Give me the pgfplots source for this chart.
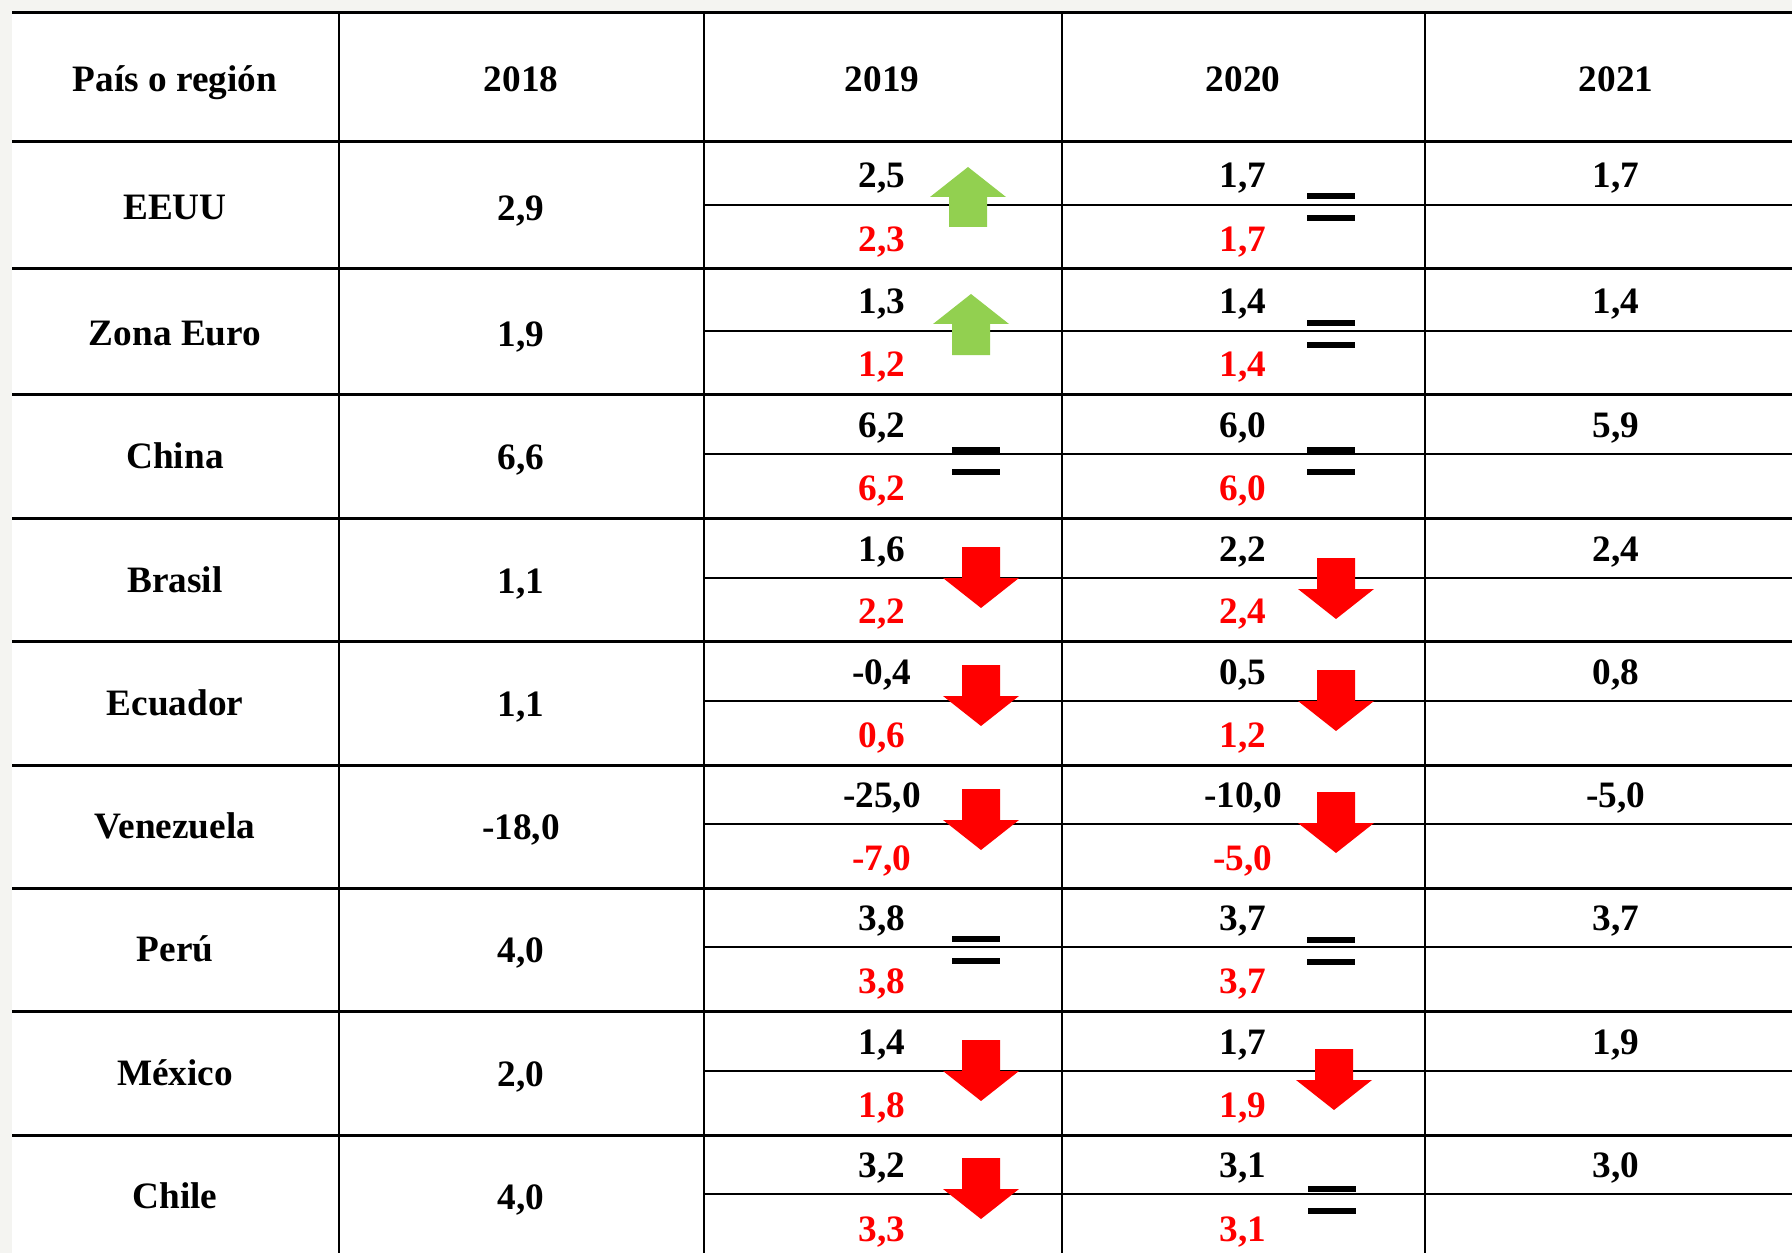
\documentclass[border=0pt]{standalone}
\usepackage{pgfplots}
\pgfplotsset{compat=1.18}
\usepackage{fontspec}
\setmainfont{Liberation Serif}

\definecolor{subegreen}{HTML}{92D050}
\definecolor{bajared}{HTML}{FF0000}
\definecolor{fondo}{HTML}{F4F4F1}

\tikzset{celda/.style={font=\fontsize{10.6}{12}\selectfont\bfseries, anchor=base, inner sep=0pt}}

% fila: {linea media}{borde inferior}{pais}{2018}{2019 arriba}{2019 abajo}{2020 arriba}{2020 abajo}{2021}
\newcommand{\fila}[9]{%
  \node[celda, yshift=-1.4mm] at (axis cs:175,#1) {#3};
  \node[celda, yshift=-1.55mm] at (axis cs:521,#1) {#4};
  \node[celda, yshift=1.7mm] at (axis cs:882,#1) {#5};
  \node[celda, yshift=1.8mm, text=bajared] at (axis cs:882,#2) {#6};
  \node[celda, yshift=1.7mm] at (axis cs:1243,#1) {#7};
  \node[celda, yshift=1.8mm, text=bajared] at (axis cs:1243,#2) {#8};
  \node[celda, yshift=1.7mm] at (axis cs:1616,#1) {#9};
}

\begin{document}
\begin{tikzpicture}
\begin{axis}[
  width=179.2mm, height=125.3mm, scale only axis,
  xmin=0, xmax=1792, ymin=0, ymax=1253,
  y dir=reverse, hide axis, unbounded coords=jump,
]
% fondo
\addplot[fill=fondo, draw=none] coordinates {(0,0) (1792,0) (1792,1253) (0,1253)} -- cycle;
\addplot[fill=white, draw=none] coordinates {(12,13) (1792,13) (1792,1253) (12,1253)} -- cycle;

% lineas horizontales
\addplot[black, line width=0.3mm] coordinates {
  (12,13) (1792,13) (nan,nan)
  (12,142) (1792,142) (nan,nan)
  (12,269) (1792,269) (nan,nan)
  (12,394) (1792,394) (nan,nan)
  (12,518) (1792,518) (nan,nan)
  (12,641) (1792,641) (nan,nan)
  (12,765) (1792,765) (nan,nan)
  (12,888) (1792,888) (nan,nan)
  (12,1011) (1792,1011) (nan,nan)
  (12,1135) (1792,1135)
};
\addplot[black, line width=0.27mm] coordinates {
  (704,205) (1792,205) (nan,nan)
  (704,331) (1792,331) (nan,nan)
  (704,454) (1792,454) (nan,nan)
  (704,578) (1792,578) (nan,nan)
  (704,701) (1792,701) (nan,nan)
  (704,824) (1792,824) (nan,nan)
  (704,947) (1792,947) (nan,nan)
  (704,1071) (1792,1071) (nan,nan)
  (704,1194) (1792,1194)
};
% lineas verticales
\addplot[black, line width=0.2mm] coordinates {
  (339,13) (339,1253) (nan,nan)
  (704,13) (704,1253) (nan,nan)
  (1062,13) (1062,1253) (nan,nan)
  (1425,13) (1425,1253)
};

% encabezado
\node[celda] at (axis cs:175,92) {País o región};
\node[celda] at (axis cs:521,92) {2018};
\node[celda] at (axis cs:882,92) {2019};
\node[celda] at (axis cs:1243,92) {2020};
\node[celda] at (axis cs:1616,92) {2021};

\fila{205}{269}{EEUU}{2,9}{2,5}{2,3}{1,7}{1,7}{1,7}
\fila{331}{394}{Zona Euro}{1,9}{1,3}{1,2}{1,4}{1,4}{1,4}
\fila{454}{518}{China}{6,6}{6,2}{6,2}{6,0}{6,0}{5,9}
\fila{578}{641}{Brasil}{1,1}{1,6}{2,2}{2,2}{2,4}{2,4}
\fila{701}{765}{Ecuador}{1,1}{-0,4}{0,6}{0,5}{1,2}{0,8}
\fila{824}{888}{Venezuela}{-18,0}{-25,0}{-7,0}{-10,0}{-5,0}{-5,0}
\fila{947}{1011}{Perú}{4,0}{3,8}{3,8}{3,7}{3,7}{3,7}
\fila{1071}{1135}{México}{2,0}{1,4}{1,8}{1,7}{1,9}{1,9}
\fila{1194}{1259}{Chile}{4,0}{3,2}{3,3}{3,1}{3,1}{3,0}

% flechas verdes (sube)
\addplot[fill=subegreen, draw=none] coordinates {(968,167) (1006,197) (987,197) (987,227) (949,227) (949,197) (930,197)} -- cycle;
\addplot[fill=subegreen, draw=none] coordinates {(971,294) (1009,324) (990,324) (990,355) (952,355) (952,324) (933,324)} -- cycle;

% flechas rojas (baja)
\addplot[fill=bajared, draw=none] coordinates {(962,547) (1000,547) (1000,578) (1019,578) (981,608) (943,578) (962,578)} -- cycle;
\addplot[fill=bajared, draw=none] coordinates {(1317,558) (1355,558) (1355,589) (1374,589) (1336,619) (1298,589) (1317,589)} -- cycle;
\addplot[fill=bajared, draw=none] coordinates {(962,665) (1000,665) (1000,696) (1019,696) (981,726) (943,696) (962,696)} -- cycle;
\addplot[fill=bajared, draw=none] coordinates {(1317,670) (1355,670) (1355,701) (1374,701) (1336,731) (1298,701) (1317,701)} -- cycle;
\addplot[fill=bajared, draw=none] coordinates {(962,789) (1000,789) (1000,820) (1019,820) (981,850) (943,820) (962,820)} -- cycle;
\addplot[fill=bajared, draw=none] coordinates {(1317,792) (1355,792) (1355,823) (1374,823) (1336,853) (1298,823) (1317,823)} -- cycle;
\addplot[fill=bajared, draw=none] coordinates {(962,1040) (1000,1040) (1000,1071) (1019,1071) (981,1101) (943,1071) (962,1071)} -- cycle;
\addplot[fill=bajared, draw=none] coordinates {(1315,1049) (1353,1049) (1353,1080) (1372,1080) (1334,1110) (1296,1080) (1315,1080)} -- cycle;
\addplot[fill=bajared, draw=none] coordinates {(962,1158) (1000,1158) (1000,1189) (1019,1189) (981,1219) (943,1189) (962,1189)} -- cycle;

% signos igual (sin cambio)
\addplot[black, line width=0.6mm] coordinates {
  (1307,196) (1355,196) (nan,nan) (1307,218) (1355,218) (nan,nan)
  (1307,323) (1355,323) (nan,nan) (1307,345) (1355,345) (nan,nan)
  (952,450) (1000,450) (nan,nan) (952,472) (1000,472) (nan,nan)
  (1307,450) (1355,450) (nan,nan) (1307,472) (1355,472) (nan,nan)
  (952,939) (1000,939) (nan,nan) (952,961) (1000,961) (nan,nan)
  (1307,940) (1355,940) (nan,nan) (1307,962) (1355,962) (nan,nan)
  (1308,1189) (1356,1189) (nan,nan) (1308,1211) (1356,1211)
};
\end{axis}
\end{tikzpicture}
\end{document}
